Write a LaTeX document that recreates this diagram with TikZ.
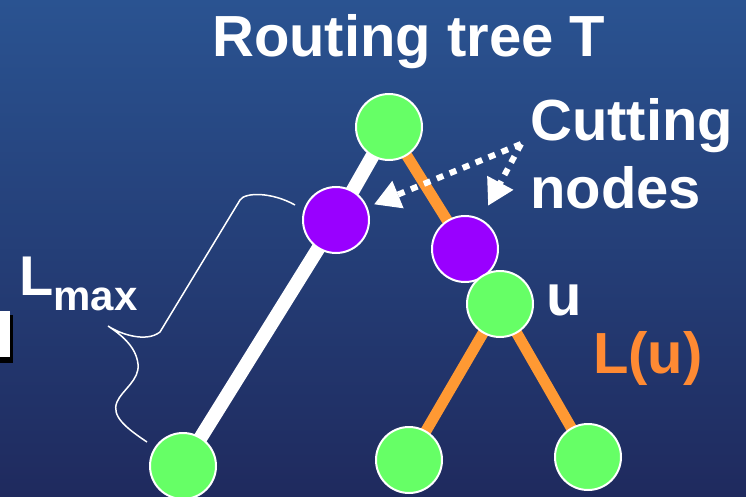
\documentclass[tikz,border=0pt]{standalone}
\usepackage{fontspec}
\setmainfont{Liberation Sans}
\usetikzlibrary{arrows.meta}
\definecolor{slidetop}{HTML}{2A5391}
\definecolor{slidemid}{HTML}{233F7A}
\definecolor{slidebot}{HTML}{1F2A5E}
\definecolor{treegreen}{HTML}{66FF66}
\definecolor{treepurple}{HTML}{9900FF}
\definecolor{treeorange}{HTML}{FF9933}
\definecolor{labelorange}{HTML}{FF8A33}
\pgfdeclarelayer{back}
\pgfdeclarelayer{edges}
\pgfsetlayers{back,edges,main}
\tikzset{treenode/.style={circle,draw=white,line width=2pt,minimum size=66pt,inner sep=0pt},
         keepnode/.style={treenode,fill=treegreen},
         cutnode/.style={treenode,fill=treepurple},
         longpath/.style={white,line width=14pt},
         subpath/.style={treeorange,line width=11pt},
         cutarrow/.style={white,line width=6pt,dash pattern=on 7pt off 7pt,-{Triangle[length=26pt,width=28pt]}},
         slidetext/.style={white,inner sep=0pt,font=\bfseries\fontsize{58}{68}\selectfont}}

\begin{document}
\begin{tikzpicture}[x=1pt,y=-1pt]
\useasboundingbox (0,0) rectangle (746,497);
\begin{pgfonlayer}{back}
\shade[top color=slidetop,middle color=slidemid,bottom color=slidebot] (0,0) rectangle (746,497);
\fill[black] (-5,315) rectangle (13,363);
\fill[white] (-5,311) rectangle (10,357);
\end{pgfonlayer}
\node[keepnode] (root) at (389,127) {};
\node[cutnode]  (p1)   at (336,220) {};
\node[cutnode]  (p2)   at (465,249) {};
\node[keepnode] (u)    at (500,304) {};
\node[keepnode] (ll)   at (183,466) {};
\node[keepnode] (ml)   at (409,460) {};
\node[keepnode] (rl)   at (588,457) {};
\begin{pgfonlayer}{edges}
\draw[longpath] (root.center) -- (p1.center) -- (ll.center);
\draw[subpath] (root.center) -- (p2.center) -- (u.center) -- (ml.center);
\draw[subpath] (u.center) -- (rl.center);
\end{pgfonlayer}
\node[slidetext,anchor=base west] (title) at (212,57) {Routing tree T};
\node[slidetext,anchor=base west,align=left] (cutlabel) at (530,208) {Cutting\\nodes};
\node[slidetext,anchor=base west] (ulabel) at (546,315) {u};
\node[slidetext,anchor=base west,text=labelorange] (lulabel) at (593,373) {L(u)};
\node[slidetext,anchor=base west,font=\bfseries\fontsize{56}{60}\selectfont] (lmax) at (19,295)
  {L{\fontsize{42}{42}\selectfont\raisebox{-15pt}{max}}};
\coordinate (cuttail) at (521,144);
\draw[cutarrow,shorten >=7pt] (cuttail) -- (p1);
\draw[cutarrow,shorten >=15pt] (cuttail) -- (p2);
\draw[white,line width=1.5pt] (147,442) .. controls (126,428) and (111,416) .. (117,402)
  .. controls (122,390) and (140,380) .. (138,364) .. controls (136,346) and (120,334) .. (108,326)
  .. controls (120,334) and (146,343) .. (160,332) -- (240,200)
  .. controls (245,192) and (272,192) .. (295,205);
\end{tikzpicture}
\end{document}
